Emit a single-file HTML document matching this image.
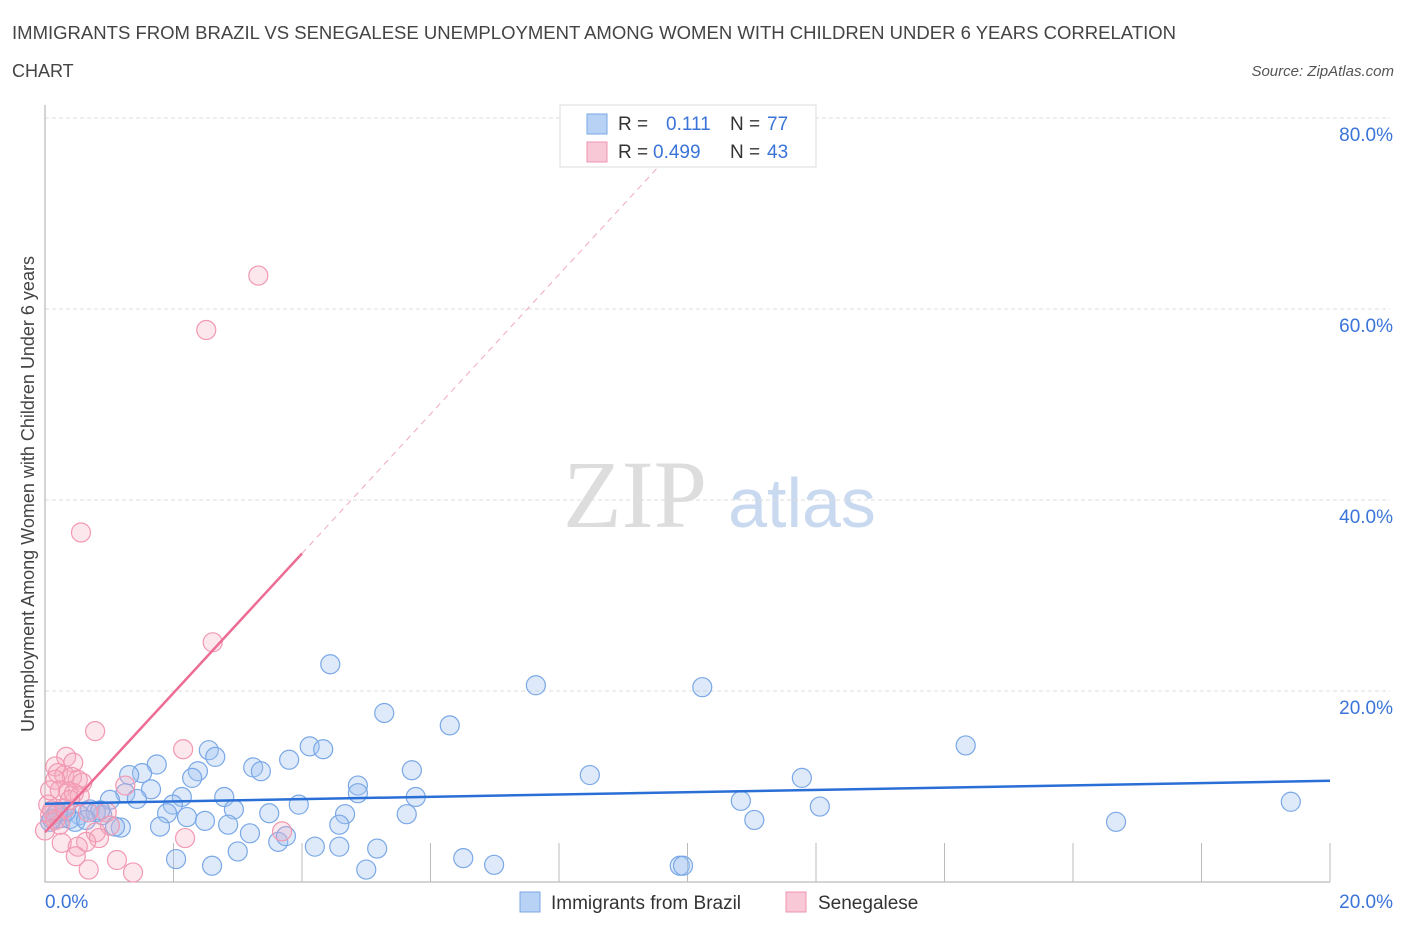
<!DOCTYPE html>
<html><head><meta charset="utf-8"><style>
body{margin:0;background:#fff;font-family:"Liberation Sans",sans-serif;}
</style></head><body>
<svg id="chart" width="1406" height="930" viewBox="0 0 1406 930" font-family="Liberation Sans, sans-serif">
<text x="12" y="39" font-size="18" fill="#444" textLength="1164" lengthAdjust="spacingAndGlyphs">IMMIGRANTS FROM BRAZIL VS SENEGALESE UNEMPLOYMENT AMONG WOMEN WITH CHILDREN UNDER 6 YEARS CORRELATION</text>
<text x="12" y="77" font-size="18" fill="#444">CHART</text>
<text x="1394" y="76" font-size="15" fill="#555" text-anchor="end" font-style="italic">Source: ZipAtlas.com</text>
<text transform="translate(34,494) rotate(-90)" font-size="18" fill="#444" text-anchor="middle">Unemployment Among Women with Children Under 6 years</text>
<g>
<text x="635" y="527" font-size="96" fill="#ddd" style="font-family:'Liberation Serif',serif" text-anchor="middle">ZIP</text>
<text x="802" y="527" font-size="70" fill="#c9daf0" text-anchor="middle">atlas</text>
</g>
<g id="grid"></g><g id="axes"></g><g id="marks"></g>
<g>
<rect x="560" y="105" width="256" height="62" fill="#fff" stroke="#ddd"/>
<rect x="587" y="114" width="20" height="20" fill="#b8d2f5" stroke="#7aa7e6"/>
<text x="618" y="130" font-size="19" fill="#333">R = </text><text x="666" y="130" font-size="19" fill="#3a74d8">0.111</text>
<text x="730" y="130" font-size="19" fill="#333">N = </text><text x="767" y="130" font-size="19" fill="#3a74d8">77</text>
<rect x="587" y="142" width="20" height="20" fill="#f9c8d6" stroke="#ee95b0"/>
<text x="618" y="158" font-size="19" fill="#333">R = </text><text x="653" y="158" font-size="19" fill="#3a74d8">0.499</text>
<text x="730" y="158" font-size="19" fill="#333">N = </text><text x="767" y="158" font-size="19" fill="#3a74d8">43</text>
</g>
<g>
<rect x="520" y="892" width="20" height="20" fill="#b8d2f5" stroke="#7aa7e6"/>
<text x="551" y="909" font-size="19" fill="#333">Immigrants from Brazil</text>
<rect x="786" y="892" width="20" height="20" fill="#f9c8d6" stroke="#ee95b0"/>
<text x="818" y="909" font-size="19" fill="#333">Senegalese</text>
</g>
</svg>
<script>
const yTicks=[20,40,60,80];
const yTickLabels=["20.0%","40.0%","60.0%","80.0%"];
const xTickLabels=["0.0%","20.0%"];
const brazilX=[4.44,7.64,10.23,5.28,6.30,14.33,4.12,4.33,2.55,1.74,2.65,3.80,3.24,3.36,1.51,1.31,5.71,2.38,2.29,8.48,11.78,4.87,1.65,4.87,1.25,1.43,2.13,2.79,5.77,1.01,1.99,2.94,3.49,3.95,4.67,5.63,10.83,12.06,19.39,0.70,0.54,0.89,1.90,2.21,2.49,1.79,2.85,3.19,4.58,1.18,1.09,0.17,0.26,0.39,0.08,0.47,0.33,11.04,16.67,3.63,3.75,4.20,4.58,5.17,3.00,2.04,6.51,2.60,5.00,6.99,9.88,9.93,0.20,0.11,0.79,0.86,0.64];
const brazilY=[22.8,20.6,20.4,17.7,16.4,14.3,14.2,13.9,13.8,12.3,13.1,12.8,12.0,11.6,11.4,11.2,11.7,11.6,10.9,11.2,10.9,10.1,9.7,9.3,9.3,8.7,8.9,8.9,8.9,8.6,8.1,7.6,7.2,8.1,7.1,7.1,8.5,7.9,8.4,7.6,7.0,7.0,7.2,6.8,6.4,5.8,6.0,5.1,6.0,5.7,5.8,7.1,6.7,6.6,6.3,6.3,7.4,6.5,6.3,4.2,4.8,3.7,3.7,3.5,3.2,2.4,2.5,1.7,1.3,1.8,1.7,1.7,7.3,6.6,7.3,7.5,6.5];
const senX=[3.32,2.51,0.56,2.61,0.78,2.15,0.33,0.44,0.16,0.20,0.30,0.42,0.51,0.58,0.16,0.23,0.36,0.45,0.54,1.25,0.96,0.67,1.01,0.79,3.69,2.18,0.84,0.64,0.26,0.51,0.48,1.12,0.68,1.37,0.08,0.16,0.23,0.05,0.11,0.31,0.39,0.0,0.08];
const senY=[63.5,57.8,36.6,25.1,15.8,13.9,13.1,12.5,12.1,11.4,11.2,11.0,10.7,10.4,10.7,9.6,9.5,9.3,9.0,10.1,7.3,7.3,5.9,5.2,5.3,4.6,4.6,4.2,4.1,3.7,2.7,2.3,1.3,1.0,7.0,6.5,6.0,8.1,7.5,7.7,8.6,5.4,9.6];
const brazilTrend=[8.2,10.6];
const senTrend=[5.2,34.4];
const senTrendEndX=4.0;
const NS='http://www.w3.org/2000/svg';
const X0=45,X1=1330,Y0=882,Y80=118;
function sx(v){return X0+(v/20)*(X1-X0);}
function sy(v){return Y0-(v/80)*(Y0-Y80);}
function mk(tag,attrs,parent){const e=document.createElementNS(NS,tag);for(const k in attrs)e.setAttribute(k,attrs[k]);parent.appendChild(e);return e;}
const grid=document.getElementById('grid'),axes=document.getElementById('axes'),marks=document.getElementById('marks');
yTicks.forEach((t,i)=>{
 const l=mk('line',{x1:X0,x2:1390,y1:sy(t),y2:sy(t),stroke:'#ddd','stroke-dasharray':'4,3'},grid);
 
 
 const tx=mk('text',{x:1393,y:sy(t)+23,'font-size':19,fill:'#3a74d8','text-anchor':'end'},axes);
 tx.textContent=yTickLabels[i];
 
 
});
const ax=mk('path',{d:`M${X0},105V${Y0}H${X1}`,stroke:'#aaa',fill:'none'},axes);


for(let k=1;k<=10;k++){const x=X0+k*(X1-X0)/10;const t=mk('line',{x1:x,x2:x,y1:843,y2:Y0,stroke:'#bbb'},axes);
 
 }
[[0,'start',X0],[20,'end',1393]].forEach((d,i)=>{const t=mk('text',{x:d[2],y:908,'font-size':19,fill:'#3a74d8','text-anchor':d[1]},axes);t.textContent=xTickLabels[i];
 
 });
brazilX.forEach((v,i)=>{const c=mk('circle',{cx:sx(v),cy:sy(brazilY[i]),r:9.5,fill:'rgba(160,196,240,0.35)',stroke:'#7aa8e6','stroke-width':1.2},marks);
 
 });
senX.forEach((v,i)=>{const c=mk('circle',{cx:sx(v),cy:sy(senY[i]),r:9.5,fill:'rgba(245,170,192,0.28)',stroke:'#f298b2','stroke-width':1.2},marks);
 
 });
const bt=mk('line',{x1:sx(0),y1:sy(brazilTrend[0]),x2:sx(20),y2:sy(brazilTrend[1]),stroke:'#2a6fd6','stroke-width':2.5},marks);


const slope=(senTrend[1]-senTrend[0])/senTrendEndX;
const st=mk('line',{x1:sx(0),y1:sy(senTrend[0]),x2:sx(senTrendEndX),y2:sy(senTrend[1]),stroke:'#ec6c93','stroke-width':2.5},marks);


const xEnd=(80-senTrend[0])/slope;
const sd=mk('line',{x1:sx(senTrendEndX),y1:sy(senTrend[1]),x2:sx(xEnd),y2:sy(80),stroke:'#f0a8be','stroke-width':1,'stroke-dasharray':'6,5'},marks);


</script>
</body></html>
